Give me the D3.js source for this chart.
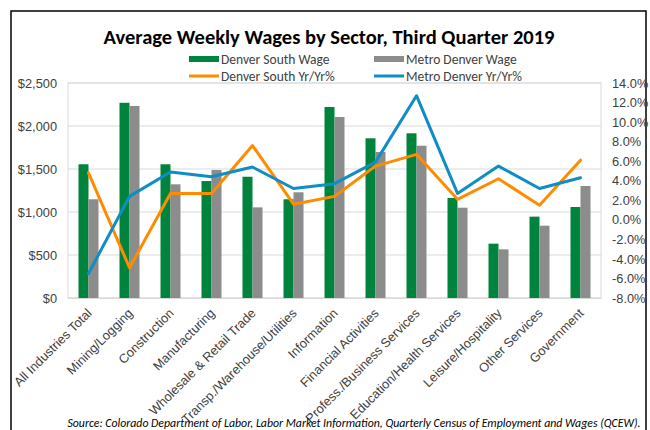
<!DOCTYPE html>
<html>
<head>
<meta charset="utf-8">
<script src="https://cdn.jsdelivr.net/npm/d3@7"></script>
<style>
  body { margin: 0; background: #fff; }
  svg { display: block; font-family: Carlito, Lato, "Open Sans", sans-serif; }
</style>
</head>
<body>
<svg id="chart" width="650" height="430"></svg>
<script>
const categories = ['All Industries Total', 'Mining/Logging', 'Construction', 'Manufacturing',
  'Wholesale & Retail Trade', 'Transp./Warehouse/Utilities', 'Information', 'Financial Activities',
  'Profess./Business Services', 'Education/Health Services', 'Leisure/Hospitality', 'Other Services', 'Government']
const southWage = [1555, 2270, 1555, 1360, 1410, 1148, 2221, 1857, 1915, 1163, 632, 946, 1058]
const metroWage = [1148, 2233, 1322, 1488, 1054, 1229, 2105, 1698, 1771, 1050, 566, 841, 1302]
const southYoY = [4.8, -4.9, 2.7, 2.7, 7.6, 1.6, 2.4, 5.5, 6.7, 2.1, 4.2, 1.5, 6.1]
const metroYoY = [-5.5, 2.4, 4.9, 4.4, 5.4, 3.2, 3.7, 5.9, 12.7, 2.7, 5.5, 3.2, 4.3]
const wageTicks = [0, 500, 1000, 1500, 2000, 2500]
const pctTicks = [-8, -6, -4, -2, 0, 2, 4, 6, 8, 10, 12, 14]

const colors = { south: '#00843d', metro: '#8c8c8c', southLine: '#ff8c00', metroLine: '#0e8ec4' }
const textColor = '#404040'

const svg = d3.select('svg#chart')

// outer frame
svg.append('rect')
  .attr('x', 11).attr('y', 11).attr('width', 635).attr('height', 425)
  .attr('fill', 'none').attr('stroke', '#000').attr('stroke-width', 1.5)

svg.append('text')
  .attr('x', 329).attr('y', 37)
  .attr('text-anchor', 'middle').attr('dominant-baseline', 'central')
  .attr('font-size', 20.5).attr('font-weight', 'bold').attr('fill', '#000')
  .text('Average Weekly Wages by Sector, Third Quarter 2019')

const x = d3.scaleBand().domain(categories).range([68, 601])
const yL = d3.scaleLinear().domain([0, 2500]).range([298, 83])
const yR = d3.scaleLinear().domain([-8, 14]).range([298, 83])
const barW = x.bandwidth() / 4.1

// gridlines
svg.append('g')
  .selectAll('line')
  .data(wageTicks)
  .enter()
    .append('line')
      .attr('x1', 68).attr('x2', 601)
      .attr('y1', d => yL(d)).attr('y2', d => yL(d))
      .attr('stroke', '#d9d9d9').attr('stroke-width', 1)

svg.append('rect')
  .attr('x', 68).attr('y', 83).attr('width', 533).attr('height', 215)
  .attr('fill', 'none').attr('stroke', '#d9d9d9')

// bars
const bars = svg.append('g')
bars.selectAll('rect.south')
  .data(southWage)
  .enter()
    .append('rect')
      .attr('class', 'south')
      .attr('x', (d, i) => x(categories[i]) + x.bandwidth() / 2 - barW)
      .attr('y', d => yL(d))
      .attr('width', barW)
      .attr('height', d => yL(0) - yL(d))
      .attr('fill', colors.south)

bars.selectAll('rect.metro')
  .data(metroWage)
  .enter()
    .append('rect')
      .attr('class', 'metro')
      .attr('x', (d, i) => x(categories[i]) + x.bandwidth() / 2)
      .attr('y', d => yL(d))
      .attr('width', barW)
      .attr('height', d => yL(0) - yL(d))
      .attr('fill', colors.metro)

// lines
const line = d3.line()
  .x((d, i) => x(categories[i]) + x.bandwidth() / 2)
  .y(d => yR(d))

svg.append('path')
  .attr('d', line(southYoY))
  .attr('fill', 'none').attr('stroke', colors.southLine)
  .attr('stroke-width', 3).attr('stroke-linejoin', 'round').attr('stroke-linecap', 'round')

svg.append('path')
  .attr('d', line(metroYoY))
  .attr('fill', 'none').attr('stroke', colors.metroLine)
  .attr('stroke-width', 3).attr('stroke-linejoin', 'round').attr('stroke-linecap', 'round')

// axes
svg.append('g')
  .attr('transform', 'translate(68,0)')
  .call(d3.axisLeft(yL).tickValues(wageTicks).tickSize(0).tickPadding(11).tickFormat(d => '$' + d3.format(',')(d)))
svg.append('g')
  .attr('transform', 'translate(601,0)')
  .call(d3.axisRight(yR).tickValues(pctTicks).tickSize(0).tickPadding(11).tickFormat(d => d.toFixed(1) + '%'))

svg.selectAll('.domain').remove()
svg.selectAll('.tick text')
  .attr('font-family', null)
  .attr('font-size', 12.8)
  .attr('fill', textColor)

const bottomAxis = svg.append('g')
  .attr('transform', 'translate(0,298)')
  .call(d3.axisBottom(x).tickSize(0).tickPadding(0))
bottomAxis.select('.domain').attr('stroke', '#d9d9d9')
bottomAxis.selectAll('.tick text')
  .attr('font-family', null)
  .attr('font-size', 12.8)
  .attr('fill', textColor)
  .attr('text-anchor', 'end')
  .attr('dy', null)
  .attr('y', 0)
  .attr('transform', 'translate(4,16) rotate(-45)')

// legend
const legendItems = [
  { label: 'Denver South Wage', color: colors.south, type: 'bar', x: 189, y: 59 },
  { label: 'Metro Denver Wage', color: colors.metro, type: 'bar', x: 374, y: 59 },
  { label: 'Denver South Yr/Yr%', color: colors.southLine, type: 'line', x: 189, y: 76 },
  { label: 'Metro Denver Yr/Yr%', color: colors.metroLine, type: 'line', x: 374, y: 76 }
]
const legend = svg.append('g').attr('class', 'legend')
  .selectAll('g')
  .data(legendItems)
  .enter()
    .append('g')
      .attr('transform', d => `translate(${d.x},${d.y})`)

legend.append('rect')
  .attr('x', 0).attr('width', 30)
  .attr('y', d => d.type === 'bar' ? -3 : -1.5)
  .attr('height', d => d.type === 'bar' ? 6 : 3)
  .attr('fill', d => d.color)

legend.append('text')
  .attr('x', 32).attr('dominant-baseline', 'central')
  .attr('font-size', 13.5).attr('fill', textColor)
  .text(d => d.label)

svg.append('text')
  .attr('x', 354).attr('y', 423)
  .attr('text-anchor', 'middle').attr('dominant-baseline', 'central')
  .attr('font-size', 11.8).attr('font-style', 'italic').attr('fill', '#000')
  .text('Source: Colorado Department of Labor, Labor Market Information, Quarterly Census of Employment and Wages (QCEW).')
</script>
</body>
</html>
